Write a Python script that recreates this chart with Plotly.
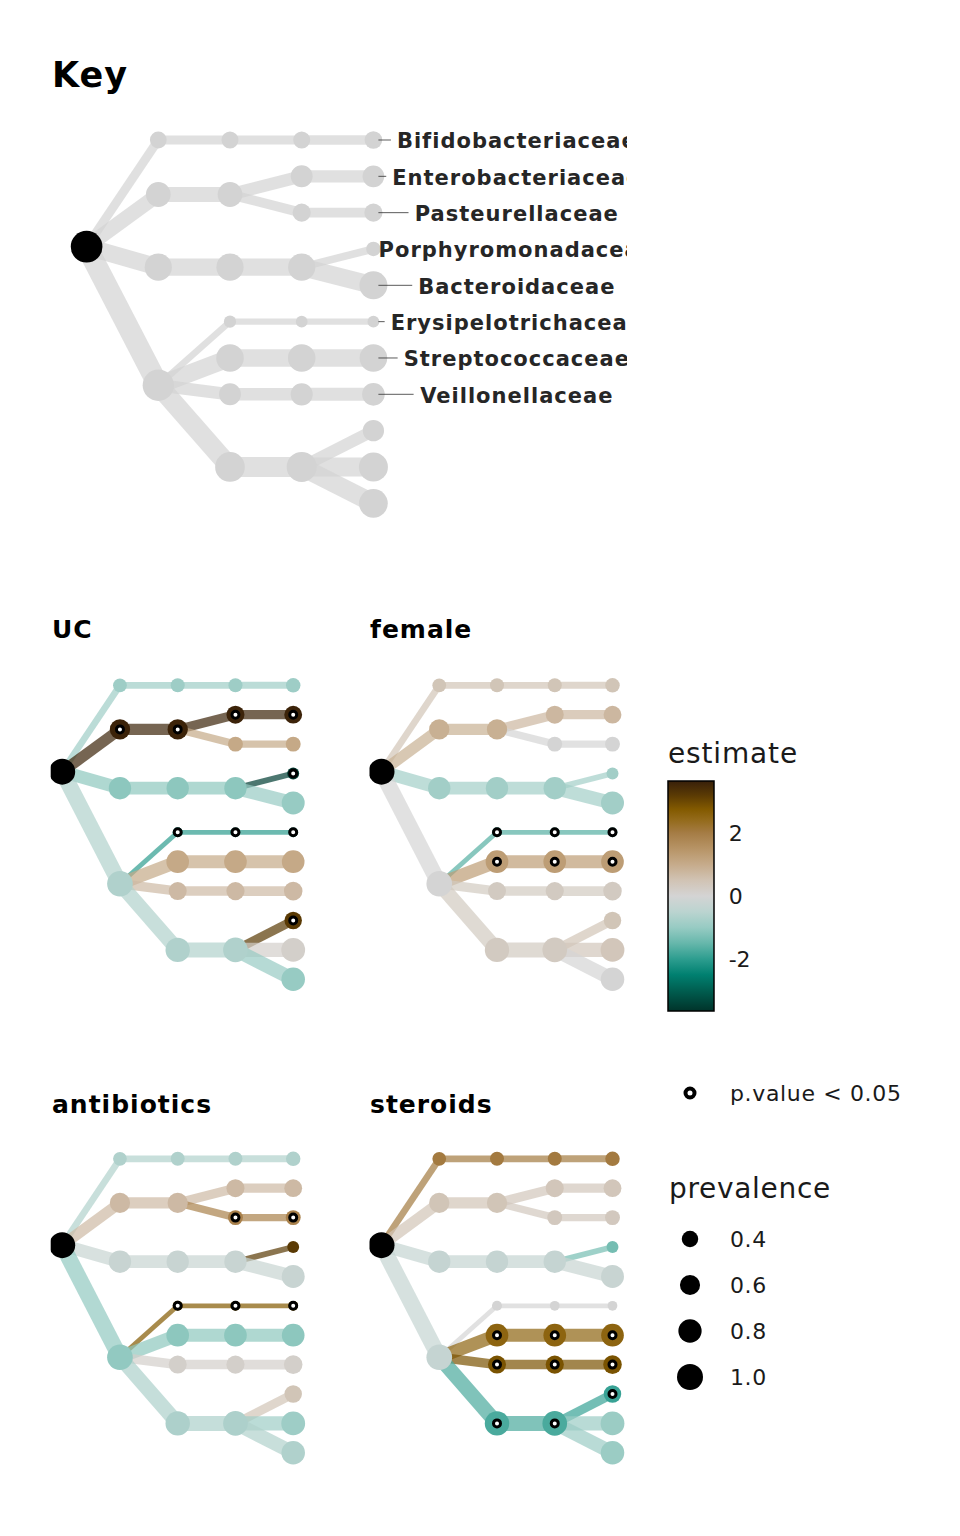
import numpy as np
import plotly.graph_objects as go
from plotly.colors import sample_colorscale, unlabel_rgb, hex_to_rgb

# --- Taxonomic tree (listed top to bottom, parents before children) ---
taxa = [
    "Bacteria",
    "Actinobacteria", "Proteobacteria", "Bacteroidetes", "Firmicutes",
    "Actinobacteria (class)", "Gammaproteobacteria", "Bacteroidia",
    "Erysipelotrichia", "Bacilli", "Negativicutes", "Clostridia",
    "Bifidobacteriales", "Enterobacterales", "Pasteurellales", "Bacteroidales",
    "Erysipelotrichales", "Lactobacillales", "Selenomonadales", "Clostridiales",
    "Bifidobacteriaceae", "Enterobacteriaceae", "Pasteurellaceae",
    "Porphyromonadaceae", "Bacteroidaceae", "Erysipelotrichaceae",
    "Streptococcaceae", "Veillonellaceae", "Lachnospiraceae",
    "Ruminococcaceae", "Clostridiales Incertae Sedis XI",
]
parents = [
    None,
    "Bacteria", "Bacteria", "Bacteria", "Bacteria",
    "Actinobacteria", "Proteobacteria", "Bacteroidetes",
    "Firmicutes", "Firmicutes", "Firmicutes", "Firmicutes",
    "Actinobacteria (class)", "Gammaproteobacteria", "Gammaproteobacteria", "Bacteroidia",
    "Erysipelotrichia", "Bacilli", "Negativicutes", "Clostridia",
    "Bifidobacteriales", "Enterobacterales", "Pasteurellales",
    "Bacteroidales", "Bacteroidales", "Erysipelotrichales",
    "Lactobacillales", "Selenomonadales", "Clostridiales",
    "Clostridiales", "Clostridiales",
]
prevalence = [
    1.00,
    0.28, 0.61, 0.74, 0.975,
    0.29, 0.61, 0.74, 0.15, 0.76, 0.48, 0.88,
    0.29, 0.48, 0.33, 0.74, 0.14, 0.76, 0.49, 0.90,
    0.31, 0.47, 0.33, 0.21, 0.78, 0.14, 0.76, 0.51, 0.45, 0.84, 0.82,
]

# --- Model estimates per term (same order as taxa, root unused) ---
est_uc = [
    0,
    -0.9, 3.6, -1.1, -0.65,
    -0.9, 3.6, -1.1, -2.0, 1.05, 0.7, -0.65,
    -0.9, 3.6, 1.05, -1.1, -2.0, 1.05, 0.7, -0.65,
    -0.9, 3.6, 1.05, -3.5, -1.0, -2.0, 1.05, 0.7, 3.2, 0.15, -1.0,
]
est_female = [
    0,
    0.45, 0.9, -0.85, 0.0,
    0.45, 0.9, -0.85, -1.65, 1.3, 0.3, 0.3,
    0.45, 0.75, 0.0, -0.85, -1.65, 1.3, 0.3, 0.3,
    0.45, 0.75, 0.0, -0.85, -0.85, -1.65, 1.3, 0.3, 0.45, 0.4, 0.0,
]
est_antibiotics = [
    0,
    -0.65, 0.7, -0.25, -1.05,
    -0.65, 0.7, -0.25, 2.75, -1.1, 0.15, -0.7,
    -0.65, 0.7, 1.9, -0.25, 2.75, -1.1, 0.15, -0.7,
    -0.65, 0.7, 1.9, 3.2, -0.25, 2.75, -1.1, 0.15, 0.45, -0.9, -0.65,
]
est_steroids = [
    0,
    2.05, 0.45, -0.3, -0.3,
    2.05, 0.45, -0.3, 0.0, 2.55, 2.85, -1.75,
    2.05, 0.4, 0.35, -0.3, 0.0, 2.55, 2.85, -1.75,
    2.05, 0.4, 0.35, -1.35, -0.25, 0.0, 2.55, 2.85, -1.9, -0.95, -0.95,
]

sig_uc = ["Proteobacteria", "Gammaproteobacteria", "Enterobacterales", "Enterobacteriaceae",
          "Porphyromonadaceae", "Erysipelotrichia", "Erysipelotrichales",
          "Erysipelotrichaceae", "Lachnospiraceae"]
sig_female = ["Erysipelotrichia", "Erysipelotrichales", "Erysipelotrichaceae",
              "Bacilli", "Lactobacillales", "Streptococcaceae"]
sig_antibiotics = ["Pasteurellales", "Pasteurellaceae", "Erysipelotrichia",
                   "Erysipelotrichales", "Erysipelotrichaceae"]
sig_steroids = ["Bacilli", "Lactobacillales", "Streptococcaceae", "Negativicutes",
                "Selenomonadales", "Veillonellaceae", "Clostridia", "Clostridiales",
                "Lachnospiraceae"]

key_labels = ["Bifidobacteriaceae", "Enterobacteriaceae", "Pasteurellaceae",
              "Porphyromonadaceae", "Bacteroidaceae", "Erysipelotrichaceae",
              "Streptococcaceae", "Veillonellaceae"]

est_ticks = [-2, 0, 2]
prev_breaks = [0.4, 0.6, 0.8, 1.0]

# --- Colour scale (Green-Brown diverging, grey midpoint) ---
EST_LIM = 3.65
scale_vals = [-3.65, -3.0, -2.5, -2.0, -1.5, -1.0, -0.5, 0.0, 0.5, 1.0, 1.5, 2.0, 2.4, 2.75, 3.2, 3.65]
scale_cols = ["#00332a", "#005e50", "#008070", "#2d9d8f", "#66b7ab", "#97cbc3", "#bbd4d0",
              "#d4d4d4", "#d1c3b4", "#c6ab8b", "#b79466", "#a57c45", "#946b1c", "#835a00",
              "#5a3a04", "#38200a"]
SCALE = [[(v + EST_LIM) / (2 * EST_LIM), "rgb(%d,%d,%d)" % hex_to_rgb(c)]
         for v, c in zip(scale_vals, scale_cols)]

W, H = 960, 1536
PAGE_OFF = 8  # the page body margin shifts the figure by this much
FONT = "DejaVu Sans"


def fx(px):
    return (px - PAGE_OFF) / W


def fy(py):
    return 1 - (py - PAGE_OFF) / H


def spaced(txt, px):
    return f'<span style="letter-spacing:{px}px">{txt}</span>'


def color_of(e):
    t = min(max((e + EST_LIM) / (2 * EST_LIM), 0.0), 1.0)
    return sample_colorscale(SCALE, [t])[0]


def rgba(c, a):
    r, g, b = unlabel_rgb(c)
    return f"rgba({r:.0f},{g:.0f},{b:.0f},{a})"


# --- Tree layout: leaves stacked in order, parents centred on children ---
children = {t: [] for t in taxa}
for t, par in zip(taxa, parents):
    if par is not None:
        children[par].append(t)
pos = {}
leaf_counter = [0]


def place(t, depth):
    kids = children[t]
    if kids:
        y = float(np.mean([place(k, depth + 1) for k in kids]))
    else:
        y = float(leaf_counter[0])
        leaf_counter[0] += 1
    pos[t] = (depth, y)
    return y


place(taxa[0], 0)
prev = dict(zip(taxa, prevalence))


def key_size(p):
    return 31.7 * np.sqrt(p)


def key_width(p):
    return 3.8 + 18 * p


def panel_size(p):
    return 26 * np.sqrt(p)


def panel_width(p):
    return 0.75 * key_width(p)


# DejaVu Sans Bold advance widths (em) for label leader lines
CHAR_W = {"B": .760, "E": .683, "P": .733, "S": .720, "V": .774, "a": .675, "b": .716,
          "c": .593, "d": .716, "e": .678, "f": .435, "h": .712, "i": .343, "l": .343,
          "m": 1.042, "n": .712, "o": .687, "p": .716, "r": .493, "s": .595, "t": .478,
          "u": .712, "y": .652}
LABEL_SIZE, LABEL_SPACING = 21, 1.0

panels = [
    ("Key", None, None, dict(xdom=(52, 627), ydom=(100, 540), x0=86.6, dx=71.7, y0=140, dy=36.33)),
    ("UC", est_uc, sig_uc, dict(xdom=(50.7, 345), ydom=(655, 1010), x0=62.2, dx=57.75, y0=685.3, dy=29.4)),
    ("female", est_female, sig_female, dict(xdom=(369.5, 655), ydom=(655, 1010), x0=381.5, dx=57.75, y0=685.3, dy=29.4)),
    ("antibiotics", est_antibiotics, sig_antibiotics, dict(xdom=(50.7, 345), ydom=(1129, 1480), x0=62.2, dx=57.75, y0=1158.8, dy=29.4)),
    ("steroids", est_steroids, sig_steroids, dict(xdom=(369.5, 655), ydom=(1129, 1480), x0=381.5, dx=57.75, y0=1158.8, dy=29.4)),
]

fig = go.Figure()
layout_axes = {}
annotations = []

for i, (name, est, sig, g) in enumerate(panels, start=1):
    sfx = "" if i == 1 else str(i)
    xr, yr = "x" + sfx, "y" + sfx
    layout_axes["xaxis" + sfx] = dict(domain=[fx(g["xdom"][0]), fx(g["xdom"][1])],
                                      range=[(g["xdom"][0] - g["x0"]) / g["dx"], (g["xdom"][1] - g["x0"]) / g["dx"]],
                                      visible=False, anchor=yr, fixedrange=True)
    layout_axes["yaxis" + sfx] = dict(domain=[fy(g["ydom"][1]), fy(g["ydom"][0])],
                                      range=[(g["ydom"][1] - g["y0"]) / g["dy"], (g["ydom"][0] - g["y0"]) / g["dy"]],
                                      visible=False, anchor=xr, fixedrange=True)
    is_key = est is None
    e_map = None if is_key else dict(zip(taxa, est))
    size_fn = key_size if is_key else panel_size
    width_fn = key_width if is_key else panel_width

    # edges (coloured by child)
    for t, par in zip(taxa, parents):
        if par is None:
            continue
        col = "rgba(211,211,211,0.7)" if is_key else rgba(color_of(e_map[t]), 0.7)
        fig.add_trace(go.Scatter(x=[pos[par][0], pos[t][0]], y=[pos[par][1], pos[t][1]],
                                 mode="lines", line=dict(color=col, width=width_fn(prev[t])),
                                 xaxis=xr, yaxis=yr, hoverinfo="skip"))
    nodes = taxa[1:]
    marker = dict(size=[size_fn(prev[t]) for t in nodes], line=dict(width=0), opacity=1)
    if is_key:
        marker["color"] = "#d3d3d3"
    else:
        marker["color"] = [e_map[t] for t in nodes]
        marker["coloraxis"] = "coloraxis"
    fig.add_trace(go.Scatter(x=[pos[t][0] for t in nodes], y=[pos[t][1] for t in nodes],
                             mode="markers", marker=marker, text=nodes,
                             xaxis=xr, yaxis=yr, hoverinfo="text"))
    root = taxa[0]
    fig.add_trace(go.Scatter(x=[pos[root][0]], y=[pos[root][1]], mode="markers",
                             marker=dict(color="black", size=size_fn(1.0), line=dict(width=0), opacity=1),
                             xaxis=xr, yaxis=yr, hoverinfo="skip"))
    if sig:
        fig.add_trace(go.Scatter(x=[pos[t][0] for t in sig], y=[pos[t][1] for t in sig],
                                 mode="markers",
                                 marker=dict(color="white", size=7, opacity=1,
                                             line=dict(color="black", width=3)),
                                 xaxis=xr, yaxis=yr, hoverinfo="skip"))
    if is_key:
        nudge = 2.0
        for lab in key_labels:
            lx, ly = pos[lab]
            wpx = sum(CHAR_W.get(c, 0.65) for c in lab) * LABEL_SIZE + LABEL_SPACING * len(lab)
            x_start = lx + 5 / g["dx"]
            x_end = lx + nudge - (wpx / 2 + 6) / g["dx"]
            if x_end > x_start:
                fig.add_trace(go.Scatter(x=[x_start, x_end], y=[ly, ly], mode="lines",
                                         line=dict(color="rgba(50,50,50,0.8)", width=1),
                                         xaxis=xr, yaxis=yr, hoverinfo="skip"))
        # text baseline sits a little low in the reference
        fig.add_trace(go.Scatter(
            x=[pos[lab][0] + nudge for lab in key_labels],
            y=[pos[lab][1] + 3 / g["dy"] for lab in key_labels],
            mode="text", text=[spaced(lab, LABEL_SPACING) for lab in key_labels],
            textposition="middle center", cliponaxis=True,
            textfont=dict(family=FONT, size=LABEL_SIZE, color="#262626", weight="bold"),
            xaxis=xr, yaxis=yr, hoverinfo="skip"))

# panel titles
titles = [("Key", 52, 75, 35), ("UC", 52, 629, 25), ("female", 370, 629, 25),
          ("antibiotics", 52, 1104, 25), ("steroids", 370, 1104, 25)]


def add_text(txt, x, y, size, color="#1a1a1a"):
    annotations.append(dict(text=txt, x=fx(x), y=fy(y), xref="paper", yref="paper",
                            xanchor="left", yanchor="middle", showarrow=False, borderpad=0,
                            font=dict(family=FONT, size=size, color=color)))


for txt, x, y, s in titles:
    add_text(f"<b>{spaced(txt, 1.0)}</b>", x - 1, y, s, "black")

# --- Legends (drawn on a full-page helper axis) ---
layout_axes["xaxis6"] = dict(domain=[0, 1], range=[PAGE_OFF, W + PAGE_OFF], visible=False,
                             anchor="y6", fixedrange=True)
layout_axes["yaxis6"] = dict(domain=[0, 1], range=[H + PAGE_OFF, PAGE_OFF], visible=False,
                             anchor="x6", fixedrange=True)

add_text(spaced("estimate", 0.85), 667, 753, 28)
fig.add_trace(go.Scatter(x=[690], y=[1093], mode="markers",
                         marker=dict(color="white", size=9, opacity=1, line=dict(color="black", width=4)),
                         xaxis="x6", yaxis="y6", hoverinfo="skip"))
add_text(spaced("p.value &lt; 0.05", 0.65), 729, 1093, 22)
add_text(spaced("prevalence", 0.7), 668, 1188, 28)
leg_y = [1239 + 46 * k for k in range(len(prev_breaks))]
fig.add_trace(go.Scatter(x=[690] * len(prev_breaks), y=leg_y, mode="markers",
                         marker=dict(color="black", size=[panel_size(b) for b in prev_breaks],
                                     line=dict(width=0), opacity=1),
                         xaxis="x6", yaxis="y6", hoverinfo="skip"))
for b, y in zip(prev_breaks, leg_y):
    add_text(spaced(f"{b:.1f}", 0.6), 729, y, 22)

# colour bar geometry and ggplot-like tick marks on both sides
CB_TOP, CB_LEN, CB_LEFT, CB_THICK = 781, 230, 668, 46
shapes = []
for v in est_ticks:
    yp = CB_TOP + (EST_LIM - v) / (2 * EST_LIM) * CB_LEN
    for xa, xb in [(CB_LEFT, CB_LEFT + 9), (CB_LEFT + CB_THICK - 9, CB_LEFT + CB_THICK)]:
        shapes.append(dict(type="line", xref="paper", yref="paper", x0=fx(xa), x1=fx(xb),
                           y0=fy(yp), y1=fy(yp), line=dict(color="black", width=1.5)))

fig.update_layout(
    width=W, height=H, margin=dict(l=0, r=0, t=0, b=0),
    paper_bgcolor="white", plot_bgcolor="rgba(0,0,0,0)", showlegend=False,
    font=dict(family=FONT),
    annotations=annotations, shapes=shapes,
    coloraxis=dict(
        colorscale=SCALE, cmin=-EST_LIM, cmax=EST_LIM,
        colorbar=dict(x=fx(CB_LEFT), xanchor="left", xpad=0, y=fy(CB_TOP), yanchor="top", ypad=0,
                      len=CB_LEN / H, lenmode="fraction", thickness=CB_THICK, thicknessmode="pixels",
                      outlinewidth=1.5, outlinecolor="black",
                      tickvals=est_ticks, ticktext=[str(v) for v in est_ticks],
                      ticks="outside", ticklen=10, tickcolor="rgba(0,0,0,0)",
                      tickfont=dict(family=FONT, size=22, color="#1a1a1a")),
    ),
    **layout_axes,
)

fig.write_html("out.html")
